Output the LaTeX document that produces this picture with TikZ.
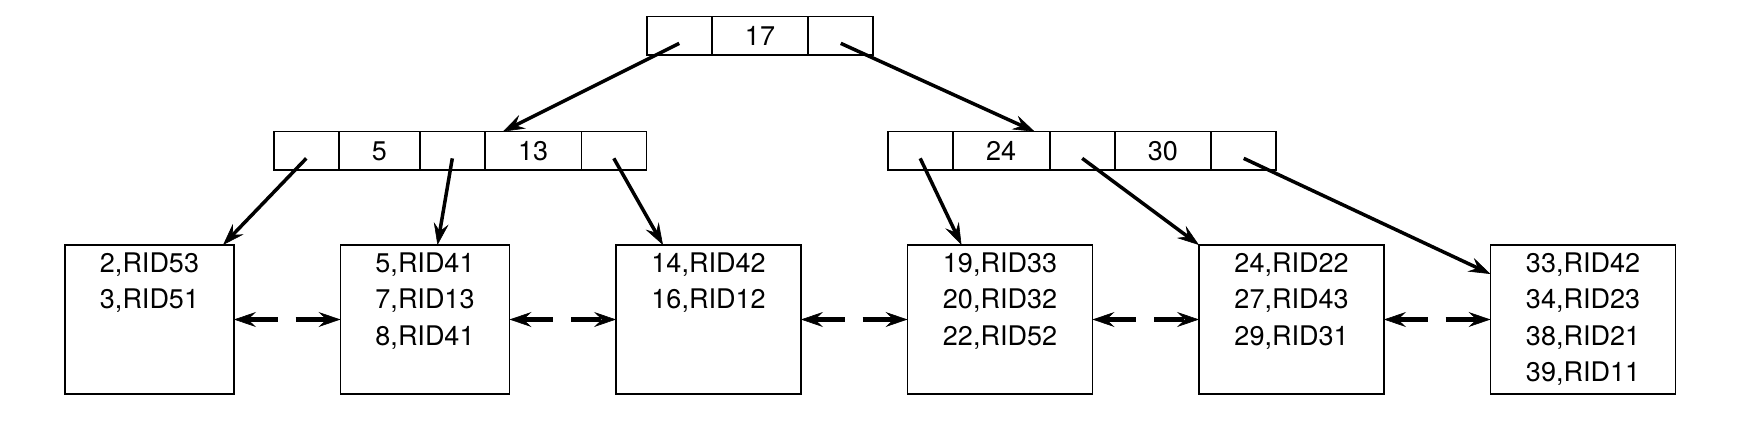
\documentclass[tikz,border=0pt]{standalone}
\usepackage{fontspec}
\setmainfont{TeX Gyre Heros}
\usetikzlibrary{positioning,arrows.meta}

\begin{document}
\begin{tikzpicture}[
  x=1pt, y=-1pt,
  font=\fontsize{27}{36.2}\selectfont,
  node distance=106.5pt,
  >={Stealth[length=22pt, width=15pt, inset=8pt, line width=0.6pt]},
  cell/.style={draw, line width=1.6pt, inner sep=0pt, outer sep=0pt, minimum width=#1, minimum height=38.5pt},
  cell/.default=65pt,
  leaf/.style={draw, line width=1.6pt, inner sep=0pt, outer sep=0pt, text width=#1, align=center, text height=27.7pt, text depth=121.3pt},
  leaf/.default=169pt,
  arrow/.style={->, line width=3.5pt},
  link/.style={<->, line width=4.5pt, dash pattern=on 30pt off 18pt}
]
\useasboundingbox (0,0) rectangle (1754,434);

% root
\node[cell=96.5pt] (r2) at (760,35.85) {17};
\node[cell, left=0pt of r2] (r1) {};
\node[cell, right=0pt of r2] (r3) {};

% left inner node
\node[cell] (a1) at (306.3,150.85) {};
\node[cell=81pt, right=0pt of a1] (a2) {5};
\node[cell, right=0pt of a2] (a3) {};
\node[cell=96.5pt, right=0pt of a3] (a4) {13};
\node[cell, right=0pt of a4] (a5) {};

% right inner node
\node[cell] (b1) at (920.2,150.85) {};
\node[cell=97pt, right=0pt of b1] (b2) {24};
\node[cell, right=0pt of b2] (b3) {};
\node[cell=96.5pt, right=0pt of b3] (b4) {30};
\node[cell, right=0pt of b4] (b5) {};

% leaves
\node[leaf, anchor=north west] (l1) at (65,245) {2,RID53\\3,RID51};
\node[leaf, right=of l1] (l2) {5,RID41\\7,RID13\\8,RID41};
\node[leaf=185pt, right=of l2] (l3) {14,RID42\\16,RID12};
\node[leaf=185pt, right=of l3] (l4) {19,RID33\\20,RID32\\22,RID52};
\node[leaf=185pt, right=of l4] (l5) {24,RID22\\27,RID43\\29,RID31};
\node[leaf=185pt, right=of l5] (l6) {33,RID42\\34,RID23\\38,RID21\\39,RID11};

% pointers
\draw[arrow] ([yshift=-7.5pt]r1.center) -- ([xshift=18pt]a4.north west);
\draw[arrow] ([yshift=-7.5pt]r3.center) -- ([xshift=-15pt]b2.north east);
\draw[arrow] ([yshift=-7.5pt]a1.center) -- ([xshift=-11pt]l1.north east);
\draw[arrow] ([yshift=-7.5pt]a3.center) -- ([xshift=12.5pt]l2.north);
\draw[arrow] ([yshift=-7.5pt]a5.center) -- ([xshift=47pt]l3.north west);
\draw[arrow] ([yshift=-7.5pt]b1.center) -- ([xshift=54pt]l4.north west);
\draw[arrow] ([yshift=-7.5pt]b3.center) -- (l5.north west);
\draw[arrow] ([yshift=-7.5pt]b5.center) -- ([yshift=-29pt]l6.north west);

% sibling links
\draw[link] (l1) -- (l2);
\draw[link] (l2) -- (l3);
\draw[link] (l3) -- (l4);
\draw[link] (l4) -- (l5);
\draw[link] (l5) -- (l6);
\end{tikzpicture}
\end{document}
